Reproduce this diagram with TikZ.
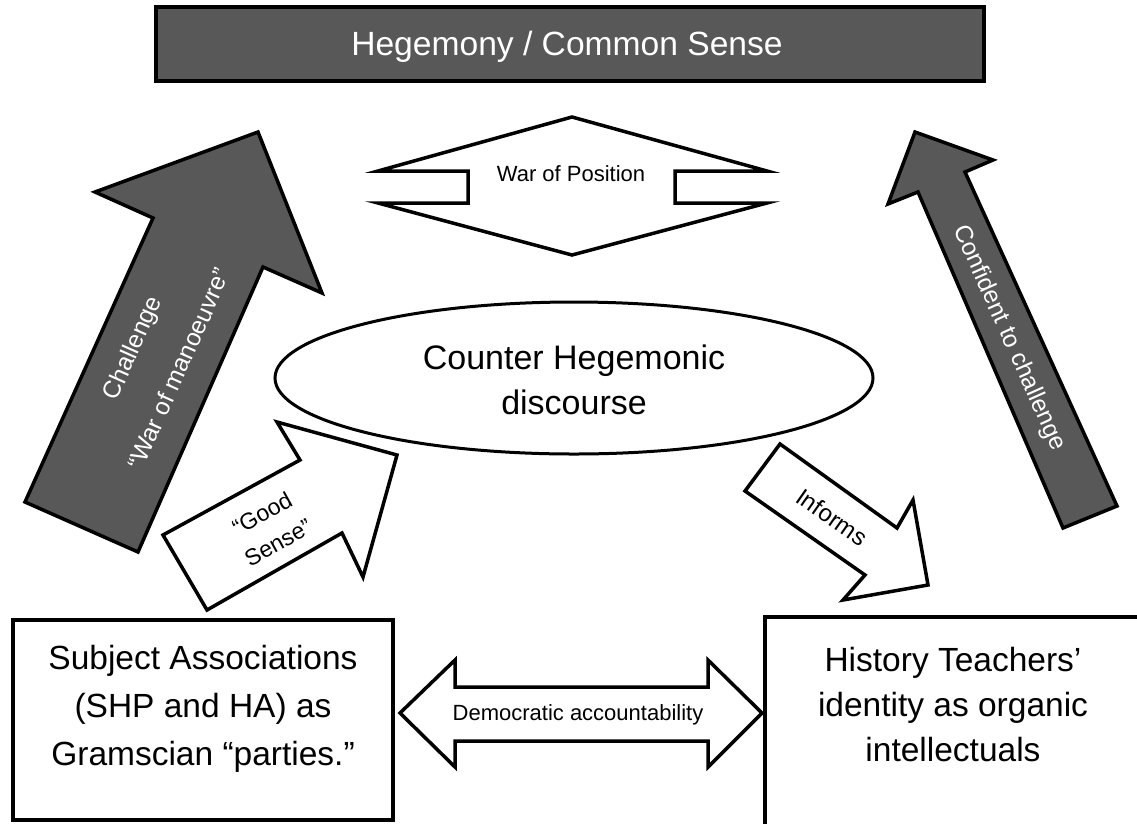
\documentclass[tikz,border=0pt]{standalone}
\usepackage{fontspec}
\setmainfont{Liberation Sans}
\usetikzlibrary{shapes.geometric}
\definecolor{darkfill}{RGB}{88,88,88}
\newcommand{\setfs}[2]{\fontsize{#1}{#2}\selectfont}
\tikzset{
  whitearrow/.style={draw=black, line width=3.5pt, fill=white},
  darkarrow/.style={draw=black, line width=3.5pt, fill=darkfill},
  boxstyle/.style={draw=black, line width=4pt, fill=white, inner sep=0pt},
  lbl/.style={anchor=base, inner sep=0pt},
}
\begin{document}
\begin{tikzpicture}[x=1pt,y=-1pt]
\useasboundingbox (0,0) rectangle (1137,823);
\clip (0,0) rectangle (1137,823);

% Title box
\node[draw=black, line width=4pt, fill=darkfill, minimum width=828pt, minimum height=74pt, inner sep=0pt] (hegemony) at (570,44) {};
\node[lbl, text=white, font=\setfs{33.6}{38}] (hegemonytext) at (567,55) {Hegemony / Common Sense};

% Bottom boxes
\node[boxstyle, minimum width=380pt, minimum height=200pt] (subject) at (203,720) {};
\node[boxstyle, minimum width=390pt, minimum height=240pt, anchor=north west] (teachers) at (763,615) {};

% Ellipse
\node[ellipse, draw=black, line width=3pt, fill=white, minimum width=598pt, minimum height=152pt, inner sep=0pt] (chd) at (574,378) {};

% Left big arrow (Challenge)
\draw[darkarrow] (25,502) -- (153,218) -- (95,192) -- (258,132) -- (322,293) -- (263,267) -- (138,552) -- cycle;
% Right arrow (Confident to challenge)
\draw[darkarrow] (1063,528) -- (918,192) -- (888,204) -- (915,132) -- (993,160) -- (965,172) -- (1117,506) -- cycle;
% Good Sense arrow
\draw[whitearrow] (163,535) -- (300,460) -- (277,422) -- (397,455) -- (363,577) -- (342,533) -- (207,610) -- cycle;
% Informs arrow
\draw[whitearrow] (780,444) -- (897,528) -- (913,500) -- (928,585) -- (843,600) -- (865,575) -- (745,491) -- cycle;
% War of Position double arrow
\draw[whitearrow] (572,117) -- (767,171) -- (675,171) -- (675,203) -- (767,203) -- (572,255) -- (378,203) -- (468,203) -- (468,171) -- (378,171) -- cycle;
% Democratic accountability double arrow
\draw[whitearrow] (400,713) -- (455,660) -- (455,687) -- (708,687) -- (708,660) -- (762,713) -- (708,767) -- (708,741) -- (455,741) -- (455,767) -- cycle;

% Texts
\node[lbl, font=\setfs{34}{40}] (chd1) at (574,369) {Counter Hegemonic};
\node[lbl, font=\setfs{34}{40}] (chd2) at (574,414) {discourse};

\node[lbl, font=\setfs{33.5}{40}] (sa1) at (203,669) {Subject Associations};
\node[lbl, font=\setfs{33.5}{40}] (sa2) at (203,717) {(SHP and HA) as};
\node[lbl, font=\setfs{33.5}{40}] (sa3) at (203,765) {Gramscian “parties.”};

\node[lbl, font=\setfs{33.5}{40}] (ht1) at (953,671) {History Teachers’};
\node[lbl, font=\setfs{33.5}{40}] (ht2) at (953,716) {identity as organic};
\node[lbl, font=\setfs{33.5}{40}] (ht3) at (953,761) {intellectuals};

\node[lbl, font=\setfs{22}{26}] (wop) at (571,181) {War of Position};
\node[lbl, font=\setfs{22}{26}] (dem) at (578,720) {Democratic accountability};

\node[text=white, rotate=66, align=center, inner sep=0pt, font=\setfs{24.5}{52}] (challenge) at (155,358) {Challenge\\“War of manoeuvre”};
\node[text=white, rotate=-66, inner sep=0pt, font=\setfs{24.5}{28}] (confident) at (1009,338) {Confident to challenge};
\node[rotate=29, align=center, inner sep=0pt, font=\setfs{23}{33}] (goodsense) at (270,528) {“Good\\Sense”};
\node[rotate=-35, inner sep=0pt, font=\setfs{24}{28}] (informs) at (832,517) {Informs};
\end{tikzpicture}
\end{document}
